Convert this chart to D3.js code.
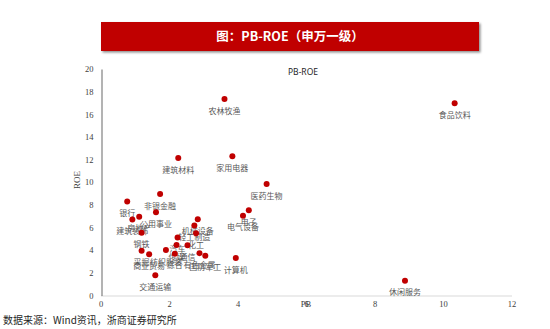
<!DOCTYPE html>
<html><head><meta charset="utf-8">
<script src="https://cdn.jsdelivr.net/npm/d3@7"></script>
<style>body{margin:0;background:#fff;}svg{display:block;}</style>
</head><body>
<script>
const industries = ["农林牧渔","建筑材料","家用电器","医药生物","食品饮料","休闲服务","非银金融","银行","公用事业","房地产","建筑装饰","钢铁","采掘","商业贸易","交通运输","纺织服装","综合","传媒","汽车","通信","轻工制造","机械设备","化工","有色金属","国防军工","计算机","电气设备","电子"];
const pbValues = [3.62,2.27,3.85,4.85,10.34,8.89,1.74,0.78,1.62,1.13,0.93,1.20,1.20,1.42,1.60,1.91,2.17,2.22,2.25,2.54,2.74,2.84,2.79,2.89,3.06,3.95,4.16,4.33];
const roeValues = [17.36,12.15,12.30,9.85,16.98,1.31,8.97,8.29,7.36,6.96,6.70,5.55,3.96,3.65,1.79,4.02,3.69,4.46,5.12,4.44,6.17,6.74,5.49,3.74,3.52,3.31,7.05,7.53];
const xTicks = [0,2,4,6,8,10,12];
const yTicks = [0,2,4,6,8,10,12,14,16,18,20];

const W = 550, H = 329;
const svg = d3.select("body").append("svg").attr("width", W).attr("height", H);

const defs = svg.append("defs");
const f = defs.append("filter").attr("id","sh").attr("x","-5%").attr("y","-20%").attr("width","110%").attr("height","150%");
f.append("feDropShadow").attr("dx",1.5).attr("dy",1.5).attr("stdDeviation",1).attr("flood-color","#000").attr("flood-opacity",0.45);

// banner
svg.append("rect").attr("x",101).attr("y",22).attr("width",378).attr("height",29).attr("fill","#C00000").attr("filter","url(#sh)");
svg.append("text").attr("x",290).attr("y",38).attr("text-anchor","middle").attr("dominant-baseline","middle")
  .attr("fill","#fff").attr("font-family","'Noto Sans CJK SC', sans-serif").attr("font-weight","bold").attr("font-size",12.5)
  .text("图：PB-ROE（申万一级）");

const x = d3.scaleLinear().domain([0,12]).range([100.5,511.5]);
const y = d3.scaleLinear().domain([0,20]).range([295.5,69]);

// x axis
const xa = svg.append("g").attr("transform","translate(0,295.5)")
  .call(d3.axisBottom(x).tickValues(xTicks).tickSize(0).tickPadding(5).tickFormat(d3.format("d")));
xa.select(".domain").attr("stroke","#d9d9d9").attr("stroke-width",1.2);
xa.selectAll("text").attr("font-family","'Liberation Serif', serif").attr("font-size",8.5).attr("fill","#404040").attr("dy","0.71em");

// y axis
const ya = svg.append("g").attr("transform","translate(101.5,0)")
  .call(d3.axisLeft(y).tickValues(yTicks).tickSize(0).tickPadding(8).tickFormat(d3.format("d")));
ya.select(".domain").attr("stroke","#808080").attr("stroke-width",1.2);
ya.selectAll("text").attr("font-family","'Liberation Serif', serif").attr("font-size",8.5).attr("fill","#404040");

// axis titles
svg.append("text").attr("x",306).attr("y",305).attr("text-anchor","middle").attr("dominant-baseline","middle")
  .attr("font-family","'Liberation Serif', serif").attr("font-size",8.5).attr("fill","#404040").text("PB");
svg.append("text").attr("transform","translate(78,180) rotate(-90)").attr("text-anchor","middle").attr("dominant-baseline","middle")
  .attr("font-family","'Liberation Serif', serif").attr("font-size",9).attr("fill","#404040").text("ROE");

// chart title
svg.append("text").attr("x",303).attr("y",73).attr("text-anchor","middle").attr("dominant-baseline","middle")
  .attr("font-family","'Noto Sans', sans-serif").attr("font-size",8.5).attr("fill","#262626").text("PB-ROE");

const data = industries.map((n,i)=>({name:n, pb:pbValues[i], roe:roeValues[i]}));

// labels
svg.append("g").selectAll("text").data(data).join("text")
  .attr("x",d=>x(d.pb)).attr("y",d=>y(d.roe)+12.5)
  .attr("text-anchor","middle").attr("dominant-baseline","middle")
  .attr("font-family","'Noto Sans CJK SC', sans-serif").attr("font-size",8).attr("fill","#595959")
  .text(d=>d.name);

// dots
svg.append("g").selectAll("circle").data(data).join("circle")
  .attr("cx",d=>x(d.pb)).attr("cy",d=>y(d.roe)).attr("r",3).attr("fill","#C00000");

// footer
svg.append("text").attr("x",3).attr("y",321).attr("dominant-baseline","middle")
  .attr("font-family","'Noto Sans CJK SC', sans-serif").attr("font-size",10).attr("fill","#262626")
  .text("数据来源：Wind资讯，浙商证券研究所");
</script>
</body></html>
